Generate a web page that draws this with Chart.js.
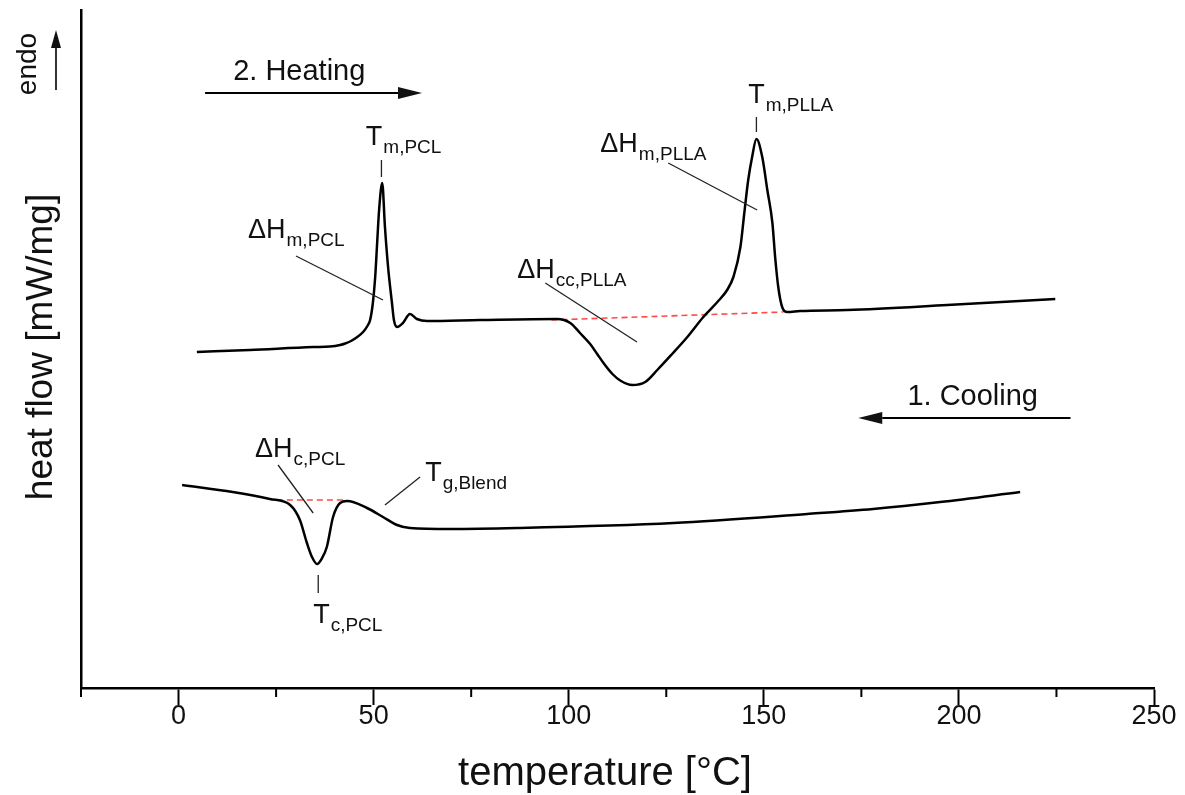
<!DOCTYPE html>
<html><head><meta charset="utf-8">
<script src="https://cdn.jsdelivr.net/npm/chart.js@4.4.1/dist/chart.umd.min.js"></script>
<style>html,body{margin:0;padding:0;background:#fff;}canvas{display:block;}</style>
</head><body>
<canvas id="c" width="1185" height="795"></canvas>
<script>
// ---- data ----
const heatingTemp = [4.7, 18.3, 34.5, 38.8, 41.4, 42.7, 44.2, 45.8, 47.3, 48.4, 49.1, 49.8, 50.4, 50.9, 51.4, 52.2, 52.9, 53.7, 54.7, 55.2, 56.0, 57.5, 59.3, 61.1, 63.7, 77.3, 97.0, 100.4, 102.9, 105.5, 107.3, 109.1, 111.2, 113.2, 116.3, 119.6, 122.7, 126.5, 130.4, 134.5, 138.1, 140.6, 142.2, 144.0, 145.0, 146.0, 147.0, 148.1, 149.6, 150.9, 152.2, 152.9, 153.7, 154.7, 156.0, 159.3, 171.4, 197.0, 224.7];
const heatingFlow = [3.36, 3.38, 3.41, 3.415, 3.43, 3.445, 3.47, 3.51, 3.56, 3.62, 3.68, 3.85, 4.11, 4.45, 4.78, 5.05, 4.61, 4.21, 3.85, 3.68, 3.61, 3.65, 3.74, 3.69, 3.67, 3.68, 3.69, 3.65, 3.55, 3.44, 3.34, 3.24, 3.14, 3.075, 3.03, 3.06, 3.18, 3.34, 3.51, 3.71, 3.86, 3.98, 4.11, 4.41, 4.75, 5.08, 5.31, 5.49, 5.31, 4.98, 4.65, 4.31, 4.01, 3.81, 3.76, 3.77, 3.78, 3.83, 3.89];
const coolingTemp = [0.9, 13.9, 23.4, 28.6, 31.1, 32.9, 34.2, 35.5, 36.8, 38.0, 39.6, 41.4, 43.2, 48.3, 52.4, 56.0, 59.3, 69.6, 86.8, 126.8, 161.1, 178.0, 195.2, 215.7];
const coolingFlow = [2.03, 1.96, 1.89, 1.83, 1.68, 1.45, 1.31, 1.24, 1.30, 1.41, 1.71, 1.85, 1.87, 1.80, 1.71, 1.63, 1.60, 1.59, 1.60, 1.65, 1.74, 1.79, 1.86, 1.96];
const ccBaselineTemp = [95.6, 155.0];
const ccBaselineFlow = [3.68, 3.76];
const cBaselineTemp = [25.2, 42.2];
const cBaselineFlow = [1.88, 1.88];
const xMajorTicks = [0, 50, 100, 150, 200, 250];
const xTitle = 'temperature [°C]';
const yTitle = 'heat flow [mW/mg]';

const FONT = '"Liberation Sans", Arial, Helvetica, sans-serif';
const toPts = (xs, ys) => xs.map((x, i) => ({x: x, y: ys[i]}));

function drawArrow(ctx, x1, y1, x2, y2, head, half) {
  const a = Math.atan2(y2 - y1, x2 - x1);
  const bx = x2 - head * Math.cos(a), by = y2 - head * Math.sin(a);
  ctx.beginPath(); ctx.moveTo(x1, y1); ctx.lineTo(bx, by); ctx.stroke();
  ctx.beginPath();
  ctx.moveTo(x2, y2);
  ctx.lineTo(bx + half * Math.sin(a), by - half * Math.cos(a));
  ctx.lineTo(bx - half * Math.sin(a), by + half * Math.cos(a));
  ctx.closePath(); ctx.fill();
}
function subText(ctx, x, y, main, sub) {
  ctx.font = '27px ' + FONT;
  ctx.textAlign = 'left'; ctx.textBaseline = 'alphabetic';
  ctx.fillText(main, x, y);
  const w = ctx.measureText(main).width;
  ctx.font = '19px ' + FONT;
  ctx.fillText(sub, x + w + 1, y + 8);
}

const annot = {
  id: 'annot',
  afterDraw(chart) {
    const ctx = chart.ctx, xs = chart.scales.x, ys = chart.scales.y;
    const px = v => xs.getPixelForValue(v), py = v => ys.getPixelForValue(v);
    ctx.save();
    ctx.fillStyle = '#111'; ctx.strokeStyle = '#000';
    // minor ticks
    ctx.lineWidth = 2;
    xs.ticks.forEach(t => {
      if (!xMajorTicks.includes(t.value)) {
        const x = px(t.value);
        ctx.beginPath(); ctx.moveTo(x, ys.bottom); ctx.lineTo(x, ys.bottom + 9); ctx.stroke();
      }
    });
    // axis titles
    ctx.textAlign = 'center'; ctx.textBaseline = 'middle';
    ctx.font = '40px ' + FONT;
    ctx.fillText(xTitle, 605, 774);
    ctx.font = '37px ' + FONT;
    ctx.save(); ctx.translate(42, 347); ctx.rotate(-Math.PI / 2); ctx.fillText(yTitle, 0, 0); ctx.restore();
    // endo
    ctx.font = '28px ' + FONT;
    ctx.save(); ctx.translate(28, 64); ctx.rotate(-Math.PI / 2); ctx.fillText('endo', 0, 0); ctx.restore();
    ctx.lineWidth = 1.6;
    drawArrow(ctx, 56, 90, 56, 30, 18, 5);
    // heating / cooling arrows
    ctx.lineWidth = 1.8;
    drawArrow(ctx, px(6.8), py(5.95), px(62.4), py(5.95), 24, 6);
    drawArrow(ctx, px(228.6), py(2.70), px(174.2), py(2.70), 24, 6);
    ctx.font = '29px ' + FONT; ctx.textAlign = 'left'; ctx.textBaseline = 'alphabetic';
    ctx.fillText('2. Heating', px(14.0), py(6.08));
    ctx.fillText('1. Cooling', px(186.8), py(2.83));
    // leader lines and peak ticks
    ctx.strokeStyle = '#222'; ctx.lineWidth = 1.3;
    const seg = (a, b, c, d) => { ctx.beginPath(); ctx.moveTo(px(a), py(b)); ctx.lineTo(px(c), py(d)); ctx.stroke(); };
    seg(30.1, 4.32, 52.4, 3.88);
    seg(94.0, 4.05, 117.5, 3.46);
    seg(125.5, 5.25, 148.3, 4.78);
    seg(25.5, 2.23, 34.5, 1.75);
    seg(61.9, 2.11, 52.9, 1.83);
    seg(52.0, 5.28, 52.0, 5.11);
    seg(148.1, 5.71, 148.1, 5.56);
    seg(35.8, 1.13, 35.8, 0.95);
    // labels
    subText(ctx, px(48.0), py(5.43), 'T', 'm,PCL');
    subText(ctx, px(17.8), py(4.50), 'ΔH', 'm,PCL');
    subText(ctx, px(86.8), py(4.10), 'ΔH', 'cc,PLLA');
    subText(ctx, px(108.1), py(5.36), 'ΔH', 'm,PLLA');
    subText(ctx, px(146.0), py(5.85), 'T', 'm,PLLA');
    subText(ctx, px(19.6), py(2.31), 'ΔH', 'c,PCL');
    subText(ctx, px(34.5), py(0.65), 'T', 'c,PCL');
    subText(ctx, px(63.2), py(2.07), 'T', 'g,Blend');
    ctx.restore();
  }
};

new Chart(document.getElementById('c'), {
  type: 'line',
  data: {
    datasets: [
      {label: '2. Heating', data: toPts(heatingTemp, heatingFlow), borderColor: '#000', borderWidth: 2.5, pointRadius: 0, cubicInterpolationMode: 'monotone', fill: false},
      {label: '1. Cooling', data: toPts(coolingTemp, coolingFlow), borderColor: '#000', borderWidth: 2.5, pointRadius: 0, cubicInterpolationMode: 'monotone', fill: false},
      {label: 'baseline cc', data: toPts(ccBaselineTemp, ccBaselineFlow), borderColor: '#ff4a4a', borderWidth: 1.6, borderDash: [6, 4], pointRadius: 0, fill: false},
      {label: 'baseline c', data: toPts(cBaselineTemp, cBaselineFlow), borderColor: '#ff4a4a', borderWidth: 1.6, borderDash: [6, 4], pointRadius: 0, fill: false}
    ]
  },
  options: {
    responsive: false, animation: false, devicePixelRatio: 1,
    layout: {padding: {left: 0, right: 31, top: 10, bottom: 0}},
    plugins: {legend: {display: false}, tooltip: {enabled: false}},
    scales: {
      x: {
        type: 'linear', min: -25, max: 250,
        afterFit: s => { s.height = 107; },
        ticks: {stepSize: 25, autoSkip: false, maxRotation: 0, padding: -2, color: '#111',
          font: {family: FONT, size: 27, lineHeight: 1},
          callback: v => xMajorTicks.includes(v) ? String(v) : ''},
        grid: {drawOnChartArea: false, tickLength: 17, tickWidth: 2,
          tickColor: c => (c.tick && xMajorTicks.includes(c.tick.value)) ? '#000' : 'rgba(0,0,0,0)'},
        border: {display: true, color: '#000', width: 2.5}
      },
      y: {
        type: 'linear', min: 0, max: 6.78,
        afterFit: s => { s.width = 81; },
        ticks: {display: false},
        grid: {drawOnChartArea: false, drawTicks: false},
        border: {display: true, color: '#000', width: 2.5}
      }
    }
  },
  plugins: [annot]
});
</script>
</body></html>
